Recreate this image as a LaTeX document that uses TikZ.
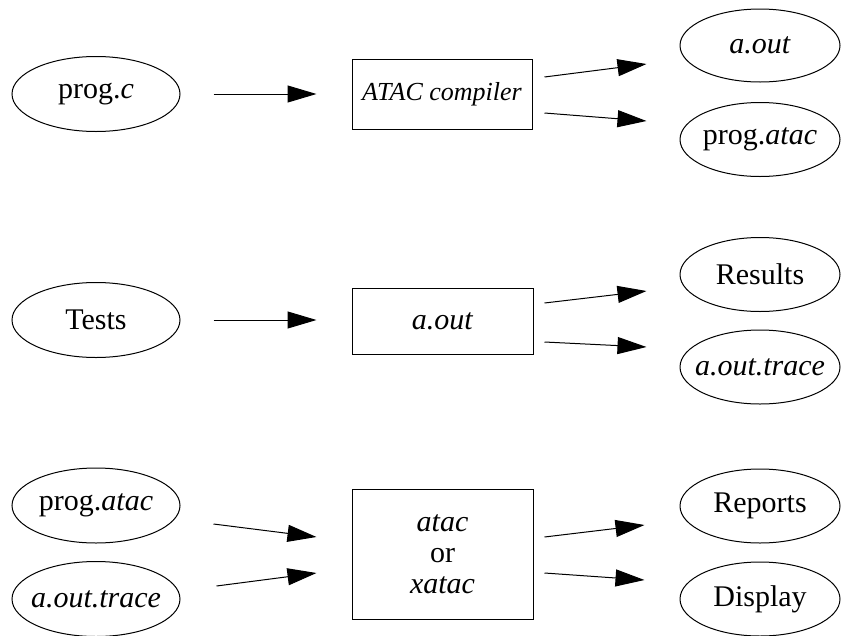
\documentclass[tikz,border=0pt]{standalone}
\usepackage{fontspec}
\setmainfont{Liberation Serif}
\usetikzlibrary{shapes.geometric,arrows.meta,calc}
\newcommand{\zw}[1]{\makebox[0pt]{#1}}
\begin{document}
\begin{tikzpicture}[x=1pt,y=-1pt,
  every node/.style={font=\fontsize{30}{31}\selectfont, text=black},
  oval/.style={draw, line width=1pt, ellipse, minimum width=168pt, minimum height=75pt, inner sep=0pt},
  roval/.style={oval, minimum width=160pt, minimum height=74pt},
  procbox/.style={draw, line width=1pt, rectangle, minimum width=181pt, inner sep=0pt, align=center},
  flow/.style={line width=1pt, -{Triangle[length=29pt,width=17pt]}}
]
\useasboundingbox (0,0) rectangle (841,635);

% Row 1
\node[oval] (progc) at (96,94) {\zw{prog.\textit{c}}};
\node[procbox, minimum width=180pt, minimum height=70pt, font=\fontsize{26}{28}\selectfont\itshape] (atac) at (442,94) {ATAC compiler};
\node[roval, minimum height=73pt] (aout) at (760,45.5) {\zw{\textit{a.out}}};
\node[roval] (progatacA) at (760,139.5) {\zw{prog.\textit{atac}}};

% Row 2
\node[oval] (tests) at (96,320) {\zw{Tests}};
\node[procbox, minimum height=66pt] (aoutbox) at (442.5,321) {\textit{a.out}};
\node[roval] (results) at (760,274.5) {\zw{Results}};
\node[roval] (traceA) at (760,367) {\zw{\textit{a.out.trace}}};

% Row 3
\node[oval] (progatacB) at (96,505.5) {\zw{prog.\textit{atac}}};
\node[oval] (traceB) at (96,599) {\zw{\textit{a.out.trace}}};
\node[procbox, minimum height=130pt] (xatac) at (442.5,554) {\textit{atac}\\or\\\textit{xatac}};
\node[roval] (reports) at (760,506) {\zw{Reports}};
\node[roval] (display) at (760,599) {\zw{Display}};

% Row 1 connectors
\draw[flow] ($(progc.east)+(33,0)$) -- ($(atac.west)+(-35,0)$);
\draw[flow] ($(atac.east)+(12,-17)$) -- ($(aout.west)+(-33,18.5)$);
\draw[flow] ($(atac.east)+(12,19)$) -- ($(progatacA.west)+(-33,-18.5)$);

% Row 2 connectors
\draw[flow] ($(tests.east)+(33,0)$) -- ($(aoutbox.west)+(-35,-1)$);
\draw[flow] ($(aoutbox.east)+(11,-18)$) -- ($(results.west)+(-33,16.5)$);
\draw[flow] ($(aoutbox.east)+(11,21)$) -- ($(traceA.west)+(-33,-20)$);

% Row 3 connectors
\draw[flow] ($(progatacB.east)+(33,18.5)$) -- ($(xatac.west)+(-35,-17)$);
\draw[flow] ($(traceB.east)+(36,-13)$) -- ($(xatac.west)+(-35,19)$);
\draw[flow] ($(xatac.east)+(11,-17)$) -- ($(reports.west)+(-35,19)$);
\draw[flow] ($(xatac.east)+(11,19)$) -- ($(display.west)+(-35,-19)$);
\end{tikzpicture}
\end{document}
